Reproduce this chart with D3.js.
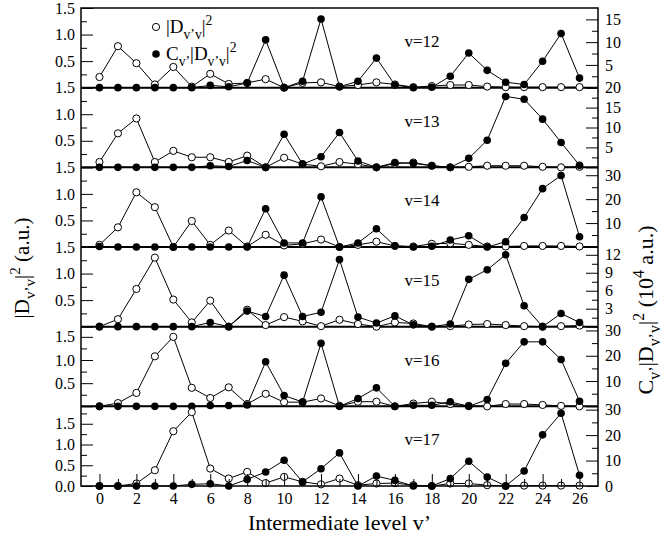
<!DOCTYPE html>
<html>
<head>
<meta charset="utf-8">
<script src="https://cdn.jsdelivr.net/npm/d3@7"></script>
<style>
  body { margin: 0; background: #fff; }
  svg { display: block; }
  text { font-family: "Liberation Serif", "Times New Roman", serif; }
</style>
</head>
<body>
<svg></svg>
<script>
// intermediate levels v'
const levels = [0,1,2,3,4,5,6,7,8,9,10,11,12,13,14,15,16,17,18,19,20,21,22,23,24,25,26];
const panelNames = ["v=12", "v=13", "v=14", "v=15", "v=16", "v=17"];

// |D_v'v|^2 (left axis, a.u.)
const dv12 = [0.20,0.78,0.46,0.06,0.39,0.02,0.26,0.07,0.09,0.16,0.00,0.09,0.10,0.02,0.05,0.10,0.06,0.01,0.03,0.05,0.05,0.02,0.01,0.01,0.01,0.01,0.01];
const dv13 = [0.10,0.64,0.92,0.10,0.31,0.19,0.19,0.10,0.22,0.00,0.18,0.06,0.02,0.10,0.06,0.00,0.07,0.09,0.03,0.00,0.01,0.03,0.03,0.03,0.01,0.00,0.01];
const dv14 = [0.04,0.37,1.03,0.75,0.00,0.49,0.04,0.31,0.01,0.23,0.03,0.06,0.14,0.00,0.04,0.10,0.02,0.01,0.06,0.07,0.04,0.01,0.01,0.02,0.02,0.02,0.01];
const dv15 = [0.00,0.14,0.71,1.30,0.51,0.08,0.49,0.00,0.32,0.03,0.18,0.10,0.01,0.13,0.05,0.00,0.08,0.06,0.00,0.01,0.04,0.05,0.03,0.01,0.00,0.01,0.02];
const dv16 = [0.00,0.07,0.29,1.08,1.50,0.40,0.18,0.41,0.05,0.27,0.09,0.09,0.17,0.01,0.10,0.10,0.00,0.06,0.10,0.05,0.01,0.00,0.05,0.05,0.03,0.01,0.00];
const dv17 = [0.00,0.00,0.06,0.38,1.32,1.78,0.42,0.18,0.34,0.07,0.22,0.10,0.04,0.18,0.02,0.06,0.07,0.02,0.00,0.06,0.06,0.02,0.00,0.01,0.01,0.01,0.01];

// C_v' |D_v'v|^2 (right axis, 10^4 a.u.)
const cv12 = [0,0,0,0,0,0,0.5,0.2,1.0,10.5,0,1.4,15.1,0.2,1.4,6.5,0.6,0,0.1,2.5,7.6,3.8,1.2,0.7,5.8,11.9,2.1];
const cv13 = [0,0,0,0,0,0,0.4,0.2,1.7,0,8.3,0.8,2.65,8.75,1.6,0,1.2,1.0,0.4,0,2.25,6.8,17.8,17.1,12.1,6.25,0.5];
const cv14 = [0.2,0,0,0,0,0,0,0,0,16,1.7,1.7,21,0,1.7,7.6,0.5,0,0.3,2.9,4.7,0,2.2,12.3,24.4,29.9,4.3];
const cv15 = [0,0,0,0,0,0,0.7,0,2.6,1.7,8.6,1.7,2.4,11.2,1.6,0.6,1.8,0.3,0,0.45,7.9,9.5,12.0,3.5,0,2.2,0.7];
const cv16 = [0,0,0,0,0,0,0.3,0.3,0.5,17.6,4.3,1.7,24.9,0,3.1,7.3,0,0.4,0.4,1.8,0,2.7,17,25.5,25.5,18.5,2.0];
const cv17 = [0,0,0,0,0,0.65,0.9,0,2.6,5.5,10.1,1.6,6.8,13.0,0,3.9,2.2,0,0,2.9,9.7,3.5,0,5.9,20.1,28.6,4.2];

const dSeries = [dv12, dv13, dv14, dv15, dv16, dv17];
const cSeries = [cv12, cv13, cv14, cv15, cv16, cv17];

// axis ticks per panel
const leftMax = [1.5, 1.5, 1.5, 1.5, 1.72, 1.92];
const leftLabels = [[0.5,1,1.5],[0.5,1,1.5],[0.5,1,1.5],[0.5,1,1.5],[0.5,1,1.5],[0,0.5,1,1.5]];
const leftMinor = [[0.25,0.75,1.25],[0.25,0.75,1.25],[0.25,0.75,1.25],[0.25,0.75,1.25],[0.25,0.75,1.25],[0.25,0.75,1.25,1.75]];
const rightMax = [17.5, 20, 33.3, 13.3, 31.5, 31.3];
const rightLabels = [[5,10,15],[5,10,15,20],[10,20,30],[3,6,9,12],[10,20,30],[0,10,20,30]];
const rightMinor = [[2.5,7.5,12.5],[2.5,7.5,12.5,17.5],[5,15,25],[1.5,4.5,7.5,10.5],[5,15,25],[5,15,25]];
const xMajor = [0,2,4,6,8,10,12,14,16,18,20,22,24,26];
const xMinor = [1,3,5,7,9,11,13,15,17,19,21,23,25];

const w = 664, h = 538;
const plotLeft = 81, plotRight = 598, plotTop = 8, plotBottom = 486;
const ph = (plotBottom - plotTop) / panelNames.length;
const serif = "'Liberation Serif', 'Times New Roman', serif";
const svg = d3.select("svg").attr("width", w).attr("height", h);

const x = d3.scaleLinear().domain([-1, 27]).range([plotLeft, plotRight]);

// write text with sub/superscripts
function rich(t, parts, size) {
  let shift = 0;
  t.style("font-family", serif);
  parts.forEach(([s, kind]) => {
    const target = kind === "sub" ? size * 0.3 : kind === "sup" ? -size * 0.42 : 0;
    t.append("tspan")
      .attr("dy", target - shift)
      .attr("font-size", kind ? size * 0.72 : size)
      .text(s);
    shift = target;
  });
}

function styleAxis(a) {
  a.select(".domain").remove();
  a.attr("font-size", 16);
  a.selectAll("line").attr("stroke", "#000").attr("stroke-width", 1);
  a.selectAll("text").attr("fill", "#000").style("font-family", serif);
}

panelNames.forEach((name, i) => {
  const y0 = plotTop + i * ph, y1 = y0 + ph;
  const yL = d3.scaleLinear().domain([0, leftMax[i]]).range([y1, y0]);
  const yR = d3.scaleLinear().domain([0, rightMax[i]]).range([y1, y0]);
  const g = svg.append("g");

  // left axis
  g.append("g").attr("transform", `translate(${plotLeft},0)`)
    .call(d3.axisLeft(yL).tickValues([0, 0.5, 1, 1.5]).tickSize(-12).tickPadding(6)
      .tickFormat(d => leftLabels[i].includes(d) ? d3.format(".1f")(d) : ""))
    .call(styleAxis);
  g.append("g").attr("transform", `translate(${plotLeft},0)`)
    .call(d3.axisLeft(yL).tickValues(leftMinor[i]).tickSize(-6).tickFormat(""))
    .call(styleAxis);

  // right axis
  g.append("g").attr("transform", `translate(${plotRight},0)`)
    .call(d3.axisRight(yR).tickValues([0].concat(rightLabels[i].filter(d => d > 0))).tickSize(-12).tickPadding(7)
      .tickFormat(d => rightLabels[i].includes(d) ? d3.format("d")(d) : ""))
    .call(styleAxis);
  g.append("g").attr("transform", `translate(${plotRight},0)`)
    .call(d3.axisRight(yR).tickValues(rightMinor[i]).tickSize(-6).tickFormat(""))
    .call(styleAxis);

  // panel bottom line
  if (i < panelNames.length - 1) {
    g.append("line").attr("x1", plotLeft).attr("x2", plotRight).attr("y1", y1).attr("y2", y1)
      .attr("stroke", "#000").attr("stroke-width", 2);
  }

  const d = dSeries[i], c = cSeries[i];
  const lineL = d3.line().x((v, k) => x(levels[k])).y(v => yL(v));
  const lineR = d3.line().x((v, k) => x(levels[k])).y(v => yR(v));
  g.append("path").attr("d", lineL(d)).attr("fill", "none").attr("stroke", "#000").attr("stroke-width", 1);
  g.append("path").attr("d", lineR(c)).attr("fill", "none").attr("stroke", "#000").attr("stroke-width", 1);

  g.selectAll(".open").data(d).enter().append("circle")
    .attr("cx", (v, k) => x(levels[k])).attr("cy", v => yL(v)).attr("r", 3.6)
    .attr("fill", "#fff").attr("stroke", "#000").attr("stroke-width", 1);
  g.selectAll(".filled").data(c).enter().append("circle")
    .attr("cx", (v, k) => x(levels[k])).attr("cy", v => yR(v)).attr("r", 3.8)
    .attr("fill", "#000");

  g.append("text").attr("x", 422).attr("y", y0 + 39).attr("text-anchor", "middle")
    .style("font-family", serif).attr("font-size", 17).text(name);
});

// bottom x axis
svg.append("g").attr("transform", `translate(0,${plotBottom})`)
  .call(d3.axisBottom(x).tickValues(xMajor).tickSize(-12).tickPadding(7).tickFormat(d3.format("d")))
  .call(styleAxis);
svg.append("g").attr("transform", `translate(0,${plotBottom})`)
  .call(d3.axisBottom(x).tickValues(xMinor).tickSize(-7).tickFormat(""))
  .call(styleAxis);

// frame
svg.append("rect").attr("x", plotLeft).attr("y", plotTop).attr("width", plotRight - plotLeft).attr("height", plotBottom - plotTop)
  .attr("fill", "none").attr("stroke", "#000").attr("stroke-width", 1.5);

// legend
svg.append("circle").attr("cx", 156).attr("cy", 27).attr("r", 3.6)
  .attr("fill", "#fff").attr("stroke", "#000");
rich(svg.append("text").attr("x", 166).attr("y", 33),
  [["|D"], ["v\u2019v", "sub"], ["|"], ["2", "sup"]], 19);
svg.append("circle").attr("cx", 156).attr("cy", 54).attr("r", 3.8).attr("fill", "#000");
rich(svg.append("text").attr("x", 166).attr("y", 60),
  [["C"], ["v\u2019", "sub"], ["|D"], ["v\u2019v", "sub"], ["|"], ["2", "sup"]], 19);

// axis titles
rich(svg.append("text").attr("text-anchor", "middle")
  .attr("transform", "translate(29,268) rotate(-90)"),
  [["|D"], ["v\u2019v", "sub"], ["|"], ["2", "sup"], [" (a.u.)"]], 21);
rich(svg.append("text").attr("text-anchor", "middle")
  .attr("transform", "translate(653,310) rotate(-90)"),
  [["C"], ["v\u2019", "sub"], ["|D"], ["v\u2019v", "sub"], ["|"], ["2", "sup"], [" (10"], ["4", "sup"], [" a.u.)"]], 22);
svg.append("text").attr("x", (plotLeft + plotRight) / 2).attr("y", 530).attr("text-anchor", "middle")
  .style("font-family", serif).attr("font-size", 22).text("Intermediate level v\u2019");
</script>
</body>
</html>
